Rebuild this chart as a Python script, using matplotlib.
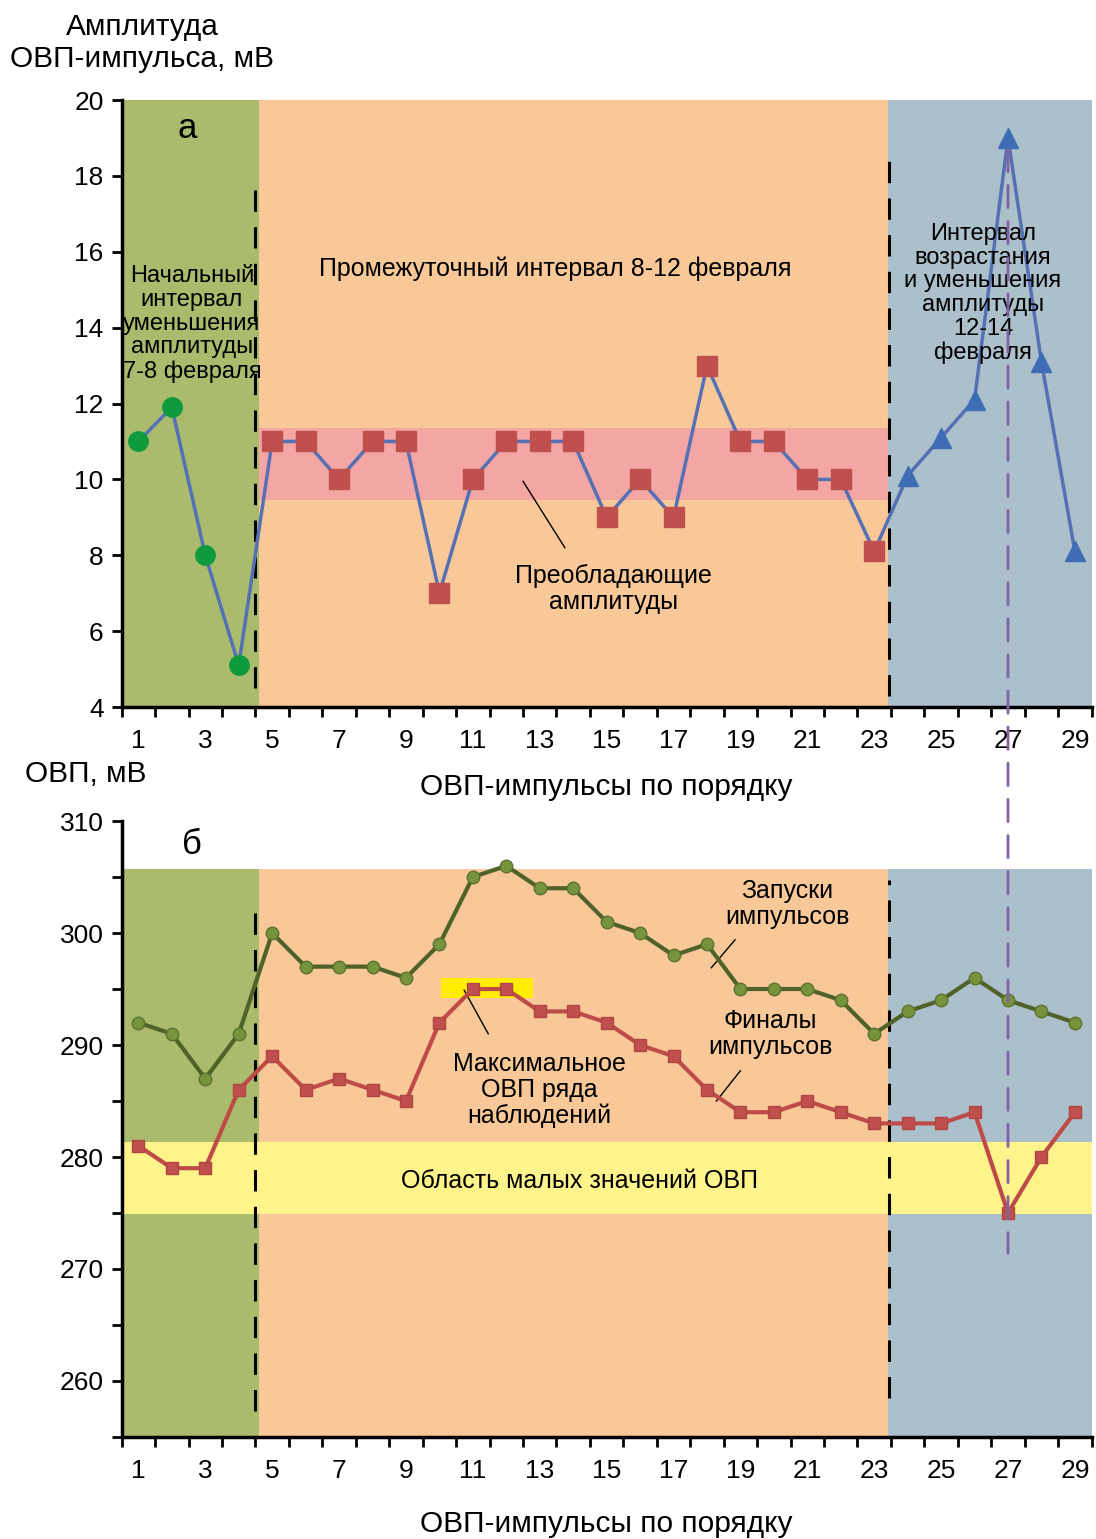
import matplotlib
matplotlib.use("Agg")
import matplotlib.pyplot as plt
from matplotlib.patches import ConnectionPatch
import numpy as np

plt.rcParams['font.family'] = ['Liberation Sans', 'DejaVu Sans']

# --- data ---
pulse_no = np.arange(1, 30)

# amplitude of each pulse, mV (groups: initial / intermediate / growth)
amp_initial = [11, 11.9, 8, 5.1]
amp_middle = [11, 11, 10, 11, 11, 7, 10, 11, 11, 11, 9, 10, 9, 13, 11, 11, 10, 10, 8.1]
amp_final = [10.1, 11.1, 12.1, 19, 13.1, 8.1]

# ORP at pulse start and pulse end, mV
orp_start = [292, 291, 287, 291, 300, 297, 297, 297, 296, 299, 305, 306, 304, 304, 301,
             300, 298, 299, 295, 295, 295, 294, 291, 293, 294, 296, 294, 293, 292]
orp_end = [281, 279, 279, 286, 289, 286, 287, 286, 285, 292, 295, 295, 293, 293, 292,
           290, 289, 286, 284, 284, 285, 284, 283, 283, 283, 284, 275, 280, 284]

x_ticklabels = [str(i) for i in range(1, 30, 2)]

# interval boundaries along the pulse axis
bounds = [0.5, 4.6, 23.4, 29.5]
split_lines = [4.5, 23.45]
peak_pulse = 27

C_GREEN = '#abbb6e'
C_ORANGE = '#f9c898'
C_BLUE = '#acc0cb'
C_PINK = '#f4a6a4'
C_YELLOW = '#fff38c'
C_BRIGHT = '#ffee00'

TICK_FS = 19
LABEL_FS = 21.5
NOTE_FS = 18

fig = plt.figure(figsize=(10.96, 15.39), dpi=100)
ax1 = fig.add_axes([0.111, 0.5406, 0.885, 0.3944])
ax2 = fig.add_axes([0.111, 0.0663, 0.885, 0.4002])


def style_axes(ax):
    ax.spines['top'].set_visible(False)
    ax.spines['right'].set_visible(False)
    ax.spines['left'].set_linewidth(2.5)
    ax.spines['bottom'].set_linewidth(2.5)
    ax.set_xlim(0.5, 29.5)
    ax.set_xticks(range(1, 30, 2))
    ax.set_xticklabels(x_ticklabels)
    ax.set_xticks(np.arange(0.5, 30, 1), minor=True)
    ax.tick_params(axis='x', which='major', length=0, labelsize=TICK_FS, pad=16)
    ax.tick_params(axis='x', which='minor', length=7, width=2)
    ax.tick_params(axis='y', which='both', length=7, width=2, labelsize=TICK_FS,
                   direction='out', pad=6)


# ---------- panel a ----------
style_axes(ax1)
ax1.set_ylim(4, 20)
ax1.set_yticks(range(4, 21, 2))

cols = [C_GREEN, C_ORANGE, C_BLUE]
for i in range(3):
    ax1.axvspan(bounds[i], bounds[i + 1], color=cols[i], lw=0, zorder=0)
ax1.fill_between([bounds[1], bounds[2]], 9.45, 11.35, color=C_PINK, lw=0, zorder=1)

ax1.plot([split_lines[0]] * 2, [4.5, 18], color='black', lw=2.2, ls=(0, (7, 5)), zorder=2)
ax1.plot([split_lines[1]] * 2, [4.3, 18.4], color='black', lw=2.2, ls=(0, (7, 5)), zorder=2)

amp_all = amp_initial + amp_middle + amp_final
ax1.plot(pulse_no, amp_all, color='#5571b3', lw=2.5, zorder=3)
n1 = len(amp_initial)
n2 = n1 + len(amp_middle)
ax1.plot(pulse_no[:n1], amp_initial, 'o', ms=14, color='#0f9a3e', zorder=4)
ax1.plot(pulse_no[n1:n2], amp_middle, 's', ms=14, color='#c0504d', zorder=4)
ax1.plot(pulse_no[n2:], amp_final, '^', ms=15, color='#3e6db5', zorder=4)

ax1.text(2.45, 19.25, 'а', fontsize=25, ha='center', va='center')
ax1.text(2.6, 14.1, 'Начальный\nинтервал\nуменьшения\nамплитуды\n7-8 февраля',
         fontsize=NOTE_FS - 1, ha='center', va='center', linespacing=1.1)
ax1.text(13.45, 15.55, 'Промежуточный интервал 8-12 февраля',
         fontsize=NOTE_FS, ha='center', va='center')
ax1.text(26.25, 14.9, 'Интервал\nвозрастания\nи уменьшения\nамплитуды\n12-14\nфевраля',
         fontsize=NOTE_FS - 1, ha='center', va='center', linespacing=1.1)
ax1.text(15.2, 7.1, 'Преобладающие\nамплитуды', fontsize=NOTE_FS, ha='center',
         va='center', linespacing=1.1)
ax1.plot([12.5, 13.75], [9.95, 8.2], color='black', lw=1, zorder=3)

ax1.set_xlabel('ОВП-импульсы по порядку', fontsize=LABEL_FS, labelpad=14)
fig.text(0.13, 0.972, 'Амплитуда\nОВП-импульса, мВ', fontsize=LABEL_FS,
         ha='center', va='center', linespacing=1.15)

# ---------- panel б ----------
style_axes(ax2)
ax2.set_ylim(255, 310)
ax2.set_yticks(range(260, 311, 10))
ax2.set_yticks(range(255, 310, 5), minor=True)

for i in range(3):
    ax2.fill_between([bounds[i], bounds[i + 1]], 255, 305.7, color=cols[i], lw=0, zorder=0)
ax2.fill_between([bounds[0], bounds[3]], 274.9, 281.3, color=C_YELLOW, lw=0, zorder=1)
ax2.fill_between([10.05, 12.8], 294.2, 296.0, color=C_BRIGHT, lw=0, zorder=1)

ax2.plot([split_lines[0]] * 2, [257.3, 302.9], color='black', lw=2.2, ls=(0, (7, 5)), zorder=2)
ax2.plot([split_lines[1]] * 2, [258.5, 304.7], color='black', lw=2.2, ls=(0, (7, 5)), zorder=2)

ax2.plot(pulse_no, orp_start, '-o', color='#4f6228', lw=3, ms=9,
         markerfacecolor='#77933c', markeredgecolor='#5b7230', zorder=4)
ax2.plot(pulse_no, orp_end, '-s', color='#be4b48', lw=3, ms=8.5,
         markerfacecolor='#c0504d', markeredgecolor='#b04542', zorder=4)

ax2.text(2.6, 307.9, 'б', fontsize=25, ha='center', va='center')
ax2.text(20.4, 302.6, 'Запуски\nимпульсов', fontsize=NOTE_FS, ha='center',
         va='center', linespacing=1.1)
ax2.plot([18.84, 18.13], [299.4, 296.9], color='black', lw=1, zorder=3)
ax2.text(19.9, 291.0, 'Финалы\nимпульсов', fontsize=NOTE_FS, ha='center',
         va='center', linespacing=1.1)
ax2.plot([19.0, 18.28], [287.7, 285.0], color='black', lw=1, zorder=3)
ax2.text(13.0, 286.0, 'Максимальное\nОВП ряда\nнаблюдений', fontsize=NOTE_FS,
         ha='center', va='center', linespacing=1.1)
ax2.plot([10.74, 11.46], [294.9, 291.0], color='black', lw=1, zorder=3)
ax2.text(14.2, 277.9, 'Область малых значений ОВП', fontsize=NOTE_FS,
         ha='center', va='center')

ax2.set_xlabel('ОВП-импульсы по порядку', fontsize=LABEL_FS, labelpad=19)
fig.text(0.078, 0.497, 'ОВП, мВ', fontsize=LABEL_FS, ha='center', va='center')

# purple marker line through both panels at the amplitude peak
con = ConnectionPatch(xyA=(peak_pulse, 18.7), coordsA=ax1.transData,
                      xyB=(peak_pulse, 271.4), coordsB=ax2.transData,
                      color='#8064a2', lw=2, ls=(0, (8, 5)), zorder=5)
fig.add_artist(con)

fig.savefig('out.png', dpi=100)
